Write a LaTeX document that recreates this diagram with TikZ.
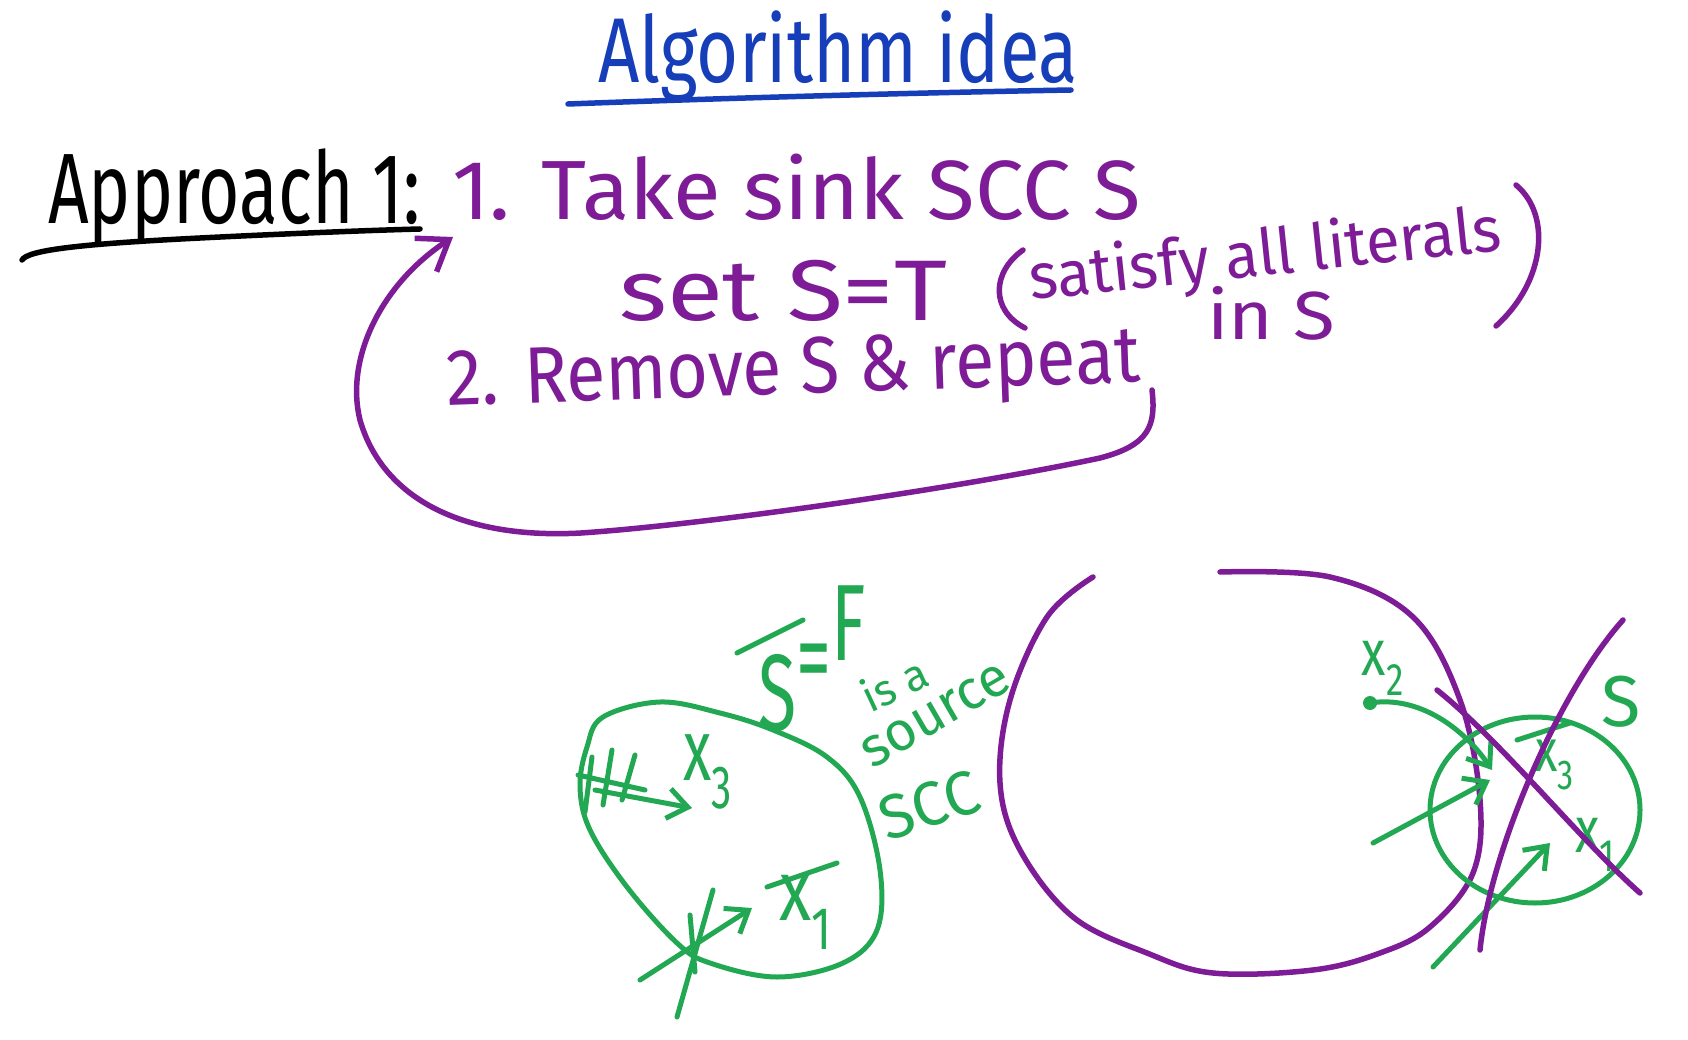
\documentclass[tikz,border=0pt]{standalone}
\usepackage{fontspec}
\setmainfont{Fira Sans}
\usetikzlibrary{arrows.meta}
\definecolor{ttl}{RGB}{22,62,185}
\definecolor{pur}{RGB}{125,28,150}
\definecolor{grn}{RGB}{34,168,82}
\newcommand\fitw[3]{\resizebox{#1pt}{\height}{\fontsize{#2}{#2}\selectfont #3}}
\newcommand\gl[2]{\fontsize{#1}{#1}\selectfont #2}
\begin{document}
\begin{tikzpicture}[x=1pt,y=-1pt,
  pen/.style={line width=5.5pt,line cap=round,line join=round},
  ppen/.style={pen,draw=pur},
  gpen/.style={pen,draw=grn,line width=5pt},
  parr/.style={-{Straight Barb[length=28pt,width=40pt]}},
  garr/.style={-{Straight Barb[length=20pt,width=30pt]}},
  txt/.style={inner sep=0pt},
  ptxt/.style={txt,text=pur},
  gtxt/.style={txt,text=grn}]
\fill[white] (0,0) rectangle (1688,1040);
\useasboundingbox (0,0) rectangle (1688,1040);

% title
\node[txt,text=ttl,anchor=base] (title) at (838,83) {\fitw{480}{92}{Algorithm idea}};
\draw[pen,draw=ttl] (568,104) .. controls (700,99) and (900,93) .. (1071,90);

% approach
\node[txt,anchor=base west] (appr) at (48,224) {\fitw{372}{100}{Approach 1:}};
\draw[pen] (22,260) .. controls (28,250) and (80,244) .. (200,238) .. controls (300,233) and (380,230) .. (420,229);

% purple text
\node[ptxt,anchor=base west] (l1) at (452,220) {\fitw{689}{84}{1. Take sink SCC S}};
\node[ptxt,anchor=base west] (l2) at (619,320) {\fitw{328}{86}{set S=T}};
\node[ptxt,anchor=base west,rotate=6] (sat) at (1031,300) {\fitw{474}{64}{satisfy all literals}};
\node[ptxt,anchor=base west] (inS) at (1207,340) {\fitw{128}{68}{in S}};
\node[ptxt,anchor=base west,rotate=2] (l3) at (447,406) {\fitw{694}{80}{2. Remove S \& repeat}};
\draw[ppen] (1023,250) .. controls (992,272) and (990,310) .. (1025,328);
\draw[ppen] (1516,185) .. controls (1552,215) and (1545,282) .. (1496,326);

% loop arrow
\coordinate (loopS) at (1152,390);
\coordinate (loopE) at (453,237);
\draw[ppen,parr] (loopS) .. controls (1156,425) and (1150,445) .. (1100,458)
  .. controls (950,490) and (700,525) .. (581,533)
  .. controls (450,540) and (380,490) .. (360,420)
  .. controls (345,360) and (380,285) .. (loopE);

% left green SCC
\draw[gpen] plot[smooth cycle,tension=0.6] coordinates {(587,747) (603,717) (660,702) (720,713) (773,730) (827,757) (860,797) (880,870) (877,930) (843,963) (777,977) (710,963) (677,943) (627,887) (590,830) (580,787)};
\node[gtxt,yscale=1.5] (x3L) at (708,772) {\gl{58}{x\textsubscript{3}}};
\node[gtxt,yscale=1.3] (x1L) at (806,912) {\gl{66}{x\textsubscript{1}}};
\draw[gpen] (767,887) -- (837,863);
\coordinate (a1s) at (595,790);
\coordinate (a1e) at (692,808);
\draw[gpen,garr] (a1s) -- (a1e);
\draw[gpen] (592,757) -- (585,812) (612,750) -- (603,805) (635,755) -- (622,800) (578,775) -- (645,790);
\coordinate (a2s) at (640,980);
\coordinate (a2e) at (752,908);
\draw[gpen,garr] (a2s) -- (a2e);
\draw[gpen] (713,890) -- (677,1017) (690,915) -- (695,972);

\node[gtxt,anchor=base west,yscale=1.55] (sf) at (758,730) {\gl{70}{S\raisebox{23pt}{=}\raisebox{45pt}{F}}};
\draw[gpen] (737,653) -- (803,620);
\node[gtxt,rotate=25] (isa) at (894,684) {\gl{44}{is a}};
\node[gtxt,rotate=30] (src) at (936,716) {\gl{55}{source}};
\node[gtxt,rotate=18] (scc) at (929,805) {\gl{62}{SCC}};

% big purple circle
\draw[ppen] plot[smooth,tension=0.6] coordinates {(1093,577) (1047,617) (1010,700) (1000,783) (1020,850) (1073,917) (1147,953) (1213,973) (1313,970) (1380,953) (1430,927) (1473,873) (1480,800) (1460,700) (1413,617) (1330,577) (1220,572)};

% right green SCC
\draw[gpen] (1535,810) ellipse [x radius=105, y radius=93];
\node[gtxt] (SR) at (1621,702) {\gl{72}{S}};
\node[gtxt,yscale=1.3] (x2) at (1383,668) {\gl{50}{x\textsubscript{2}}};
\node[gtxt,yscale=1.3] (x3R) at (1555,765) {\gl{46}{x\textsubscript{3}}};
\draw[gpen] (1517,740) -- (1570,723);
\node[gtxt,yscale=1.3] (x1R) at (1595,845) {\gl{50}{x\textsubscript{1}}};
\coordinate (d2) at (1370,703);
\fill[grn] (d2) circle (7);
\coordinate (b1e) at (1492,770);
\draw[gpen,garr] (d2) .. controls (1420,695) and (1465,730) .. (b1e);
\coordinate (b2s) at (1373,843);
\coordinate (b2e) at (1490,780);
\draw[gpen,garr] (b2s) -- (b2e);
\coordinate (b3s) at (1433,967);
\coordinate (b3e) at (1550,843);
\draw[gpen,garr] (b3s) -- (b3e);

% purple X
\draw[ppen] (1437,690) .. controls (1500,740) and (1580,840) .. (1640,893);
\draw[ppen] (1623,620) .. controls (1560,690) and (1490,850) .. (1480,950);
\end{tikzpicture}
\end{document}
